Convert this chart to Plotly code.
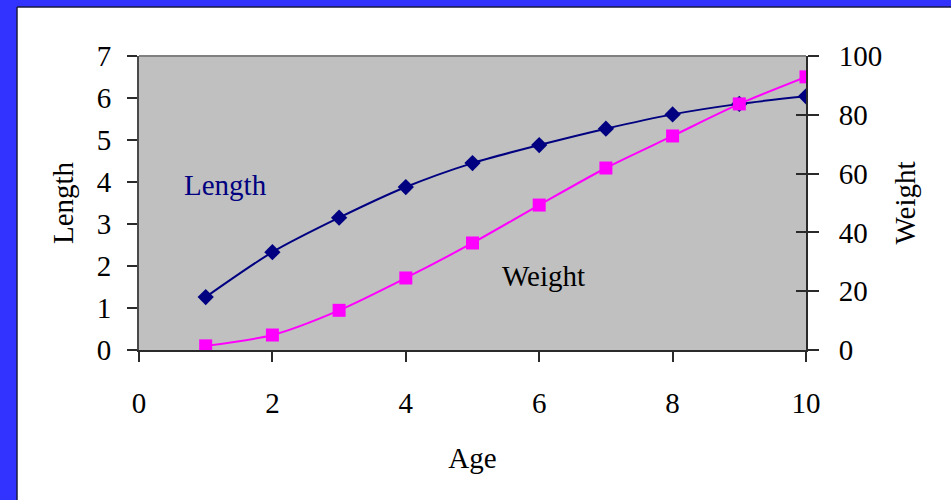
import plotly.graph_objects as go

# Growth data by age
age = [1, 2, 3, 4, 5, 6, 7, 8, 9, 10]
length = [1.26, 2.33, 3.15, 3.88, 4.45, 4.88, 5.27, 5.61, 5.86, 6.04]
weight = [1.4, 5.1, 13.5, 24.5, 36.4, 49.3, 61.9, 72.8, 83.7, 92.9]

x_ticks = [0, 2, 4, 6, 8, 10]
left_ticks = [0, 1, 2, 3, 4, 5, 6, 7]
right_ticks = [0, 20, 40, 60, 80, 100]

FONT = "Liberation Serif, Times New Roman, serif"
FS = 29
NAVY = "#000080"
MAGENTA = "#FF00FF"
AXIS = "#2a2a2a"

fig = go.Figure()

fig.add_trace(go.Scatter(
    x=age, y=length, mode="lines+markers", name="Length",
    line=dict(color=NAVY, width=2, shape="spline", smoothing=0.8),
    marker=dict(symbol="diamond", size=12.5, color=NAVY),
    yaxis="y",
))
fig.add_trace(go.Scatter(
    x=age, y=weight, mode="lines+markers", name="Weight",
    line=dict(color=MAGENTA, width=2, shape="spline", smoothing=0.8),
    marker=dict(symbol="square", size=13, color=MAGENTA),
    yaxis="y2",
))

W, H = 951, 500
L, R, T, B = 139, 806, 56, 350


def px_x(p):
    return (p - L) / (R - L)


def px_y(p):
    return (B - p) / (B - T)


shapes = [
    # top border of the plotting area
    dict(type="line", xref="paper", yref="paper", x0=0, x1=1, y0=1, y1=1,
         line=dict(color="#808080", width=2)),
    # blue frame along the left and top edges
    dict(type="rect", xref="paper", yref="paper", x0=px_x(-2), x1=px_x(17),
         y0=px_y(H + 2), y1=px_y(-2), fillcolor="#3333FF", line=dict(width=0), layer="above"),
    dict(type="rect", xref="paper", yref="paper", x0=px_x(-2), x1=px_x(W + 2),
         y0=px_y(7), y1=px_y(-2), fillcolor="#3333FF", line=dict(width=0), layer="above"),
    dict(type="line", xref="paper", yref="paper", x0=px_x(17), x1=px_x(17),
         y0=px_y(H + 2), y1=px_y(7), line=dict(color="#1a1a40", width=1.5), layer="above"),
    dict(type="line", xref="paper", yref="paper", x0=px_x(17), x1=px_x(W + 2),
         y0=px_y(7), y1=px_y(7), line=dict(color="#1a1a40", width=1.5), layer="above"),
]

fig.update_layout(
    width=W, height=H,
    margin=dict(l=L, r=W - R, t=T, b=H - B),
    paper_bgcolor="white",
    plot_bgcolor="#C0C0C0",
    showlegend=False,
    font=dict(family=FONT, size=FS, color="black"),
    xaxis=dict(
        range=[0, 10], tickvals=x_ticks, ticktext=[str(v) for v in x_ticks],
        ticks="outside", ticklen=10, tickwidth=1.5, tickcolor=AXIS,
        showline=True, linecolor=AXIS, linewidth=2, showgrid=False, zeroline=False,
        ticklabelstandoff=16,
        title=dict(text="Age", standoff=30, font=dict(size=FS)),
    ),
    yaxis=dict(
        range=[0, 7], tickvals=left_ticks, ticktext=[str(v) for v in left_ticks],
        ticks="outside", ticklen=10, tickwidth=1.5, tickcolor=AXIS,
        showline=True, linecolor="#4a4a4a", linewidth=2, showgrid=False, zeroline=False,
        ticklabelstandoff=10,
        title=dict(text="Length", standoff=15, font=dict(size=FS)),
    ),
    yaxis2=dict(
        range=[0, 100], tickvals=right_ticks, ticktext=[str(v) for v in right_ticks],
        overlaying="y", side="right",
        ticks="outside", ticklen=11, tickwidth=1.5, tickcolor=AXIS,
        showline=True, linecolor=AXIS, linewidth=2, showgrid=False, zeroline=False,
        ticklabelstandoff=14,
        title=dict(text="Weight", standoff=13, font=dict(size=FS)),
    ),
    # inner half of the crossing ticks on the right axis
    yaxis3=dict(
        range=[0, 100], tickvals=right_ticks, showticklabels=False,
        overlaying="y", side="right", anchor="x",
        ticks="inside", ticklen=10, tickwidth=1.5, tickcolor=AXIS,
        showline=False, showgrid=False, zeroline=False,
    ),
    shapes=shapes,
    annotations=[
        dict(x=1.29, y=3.93, xref="x", yref="y", text="Length", showarrow=False,
             font=dict(color=NAVY, size=FS, family=FONT)),
        dict(x=6.06, y=1.76, xref="x", yref="y", text="Weight", showarrow=False,
             font=dict(color="black", size=FS, family=FONT)),
    ],
)

# attach a hidden trace so the inner-tick axis is rendered
fig.add_trace(go.Scatter(x=[None], y=[None], yaxis="y3", showlegend=False, hoverinfo="skip"))

fig.write_html("out.html")
